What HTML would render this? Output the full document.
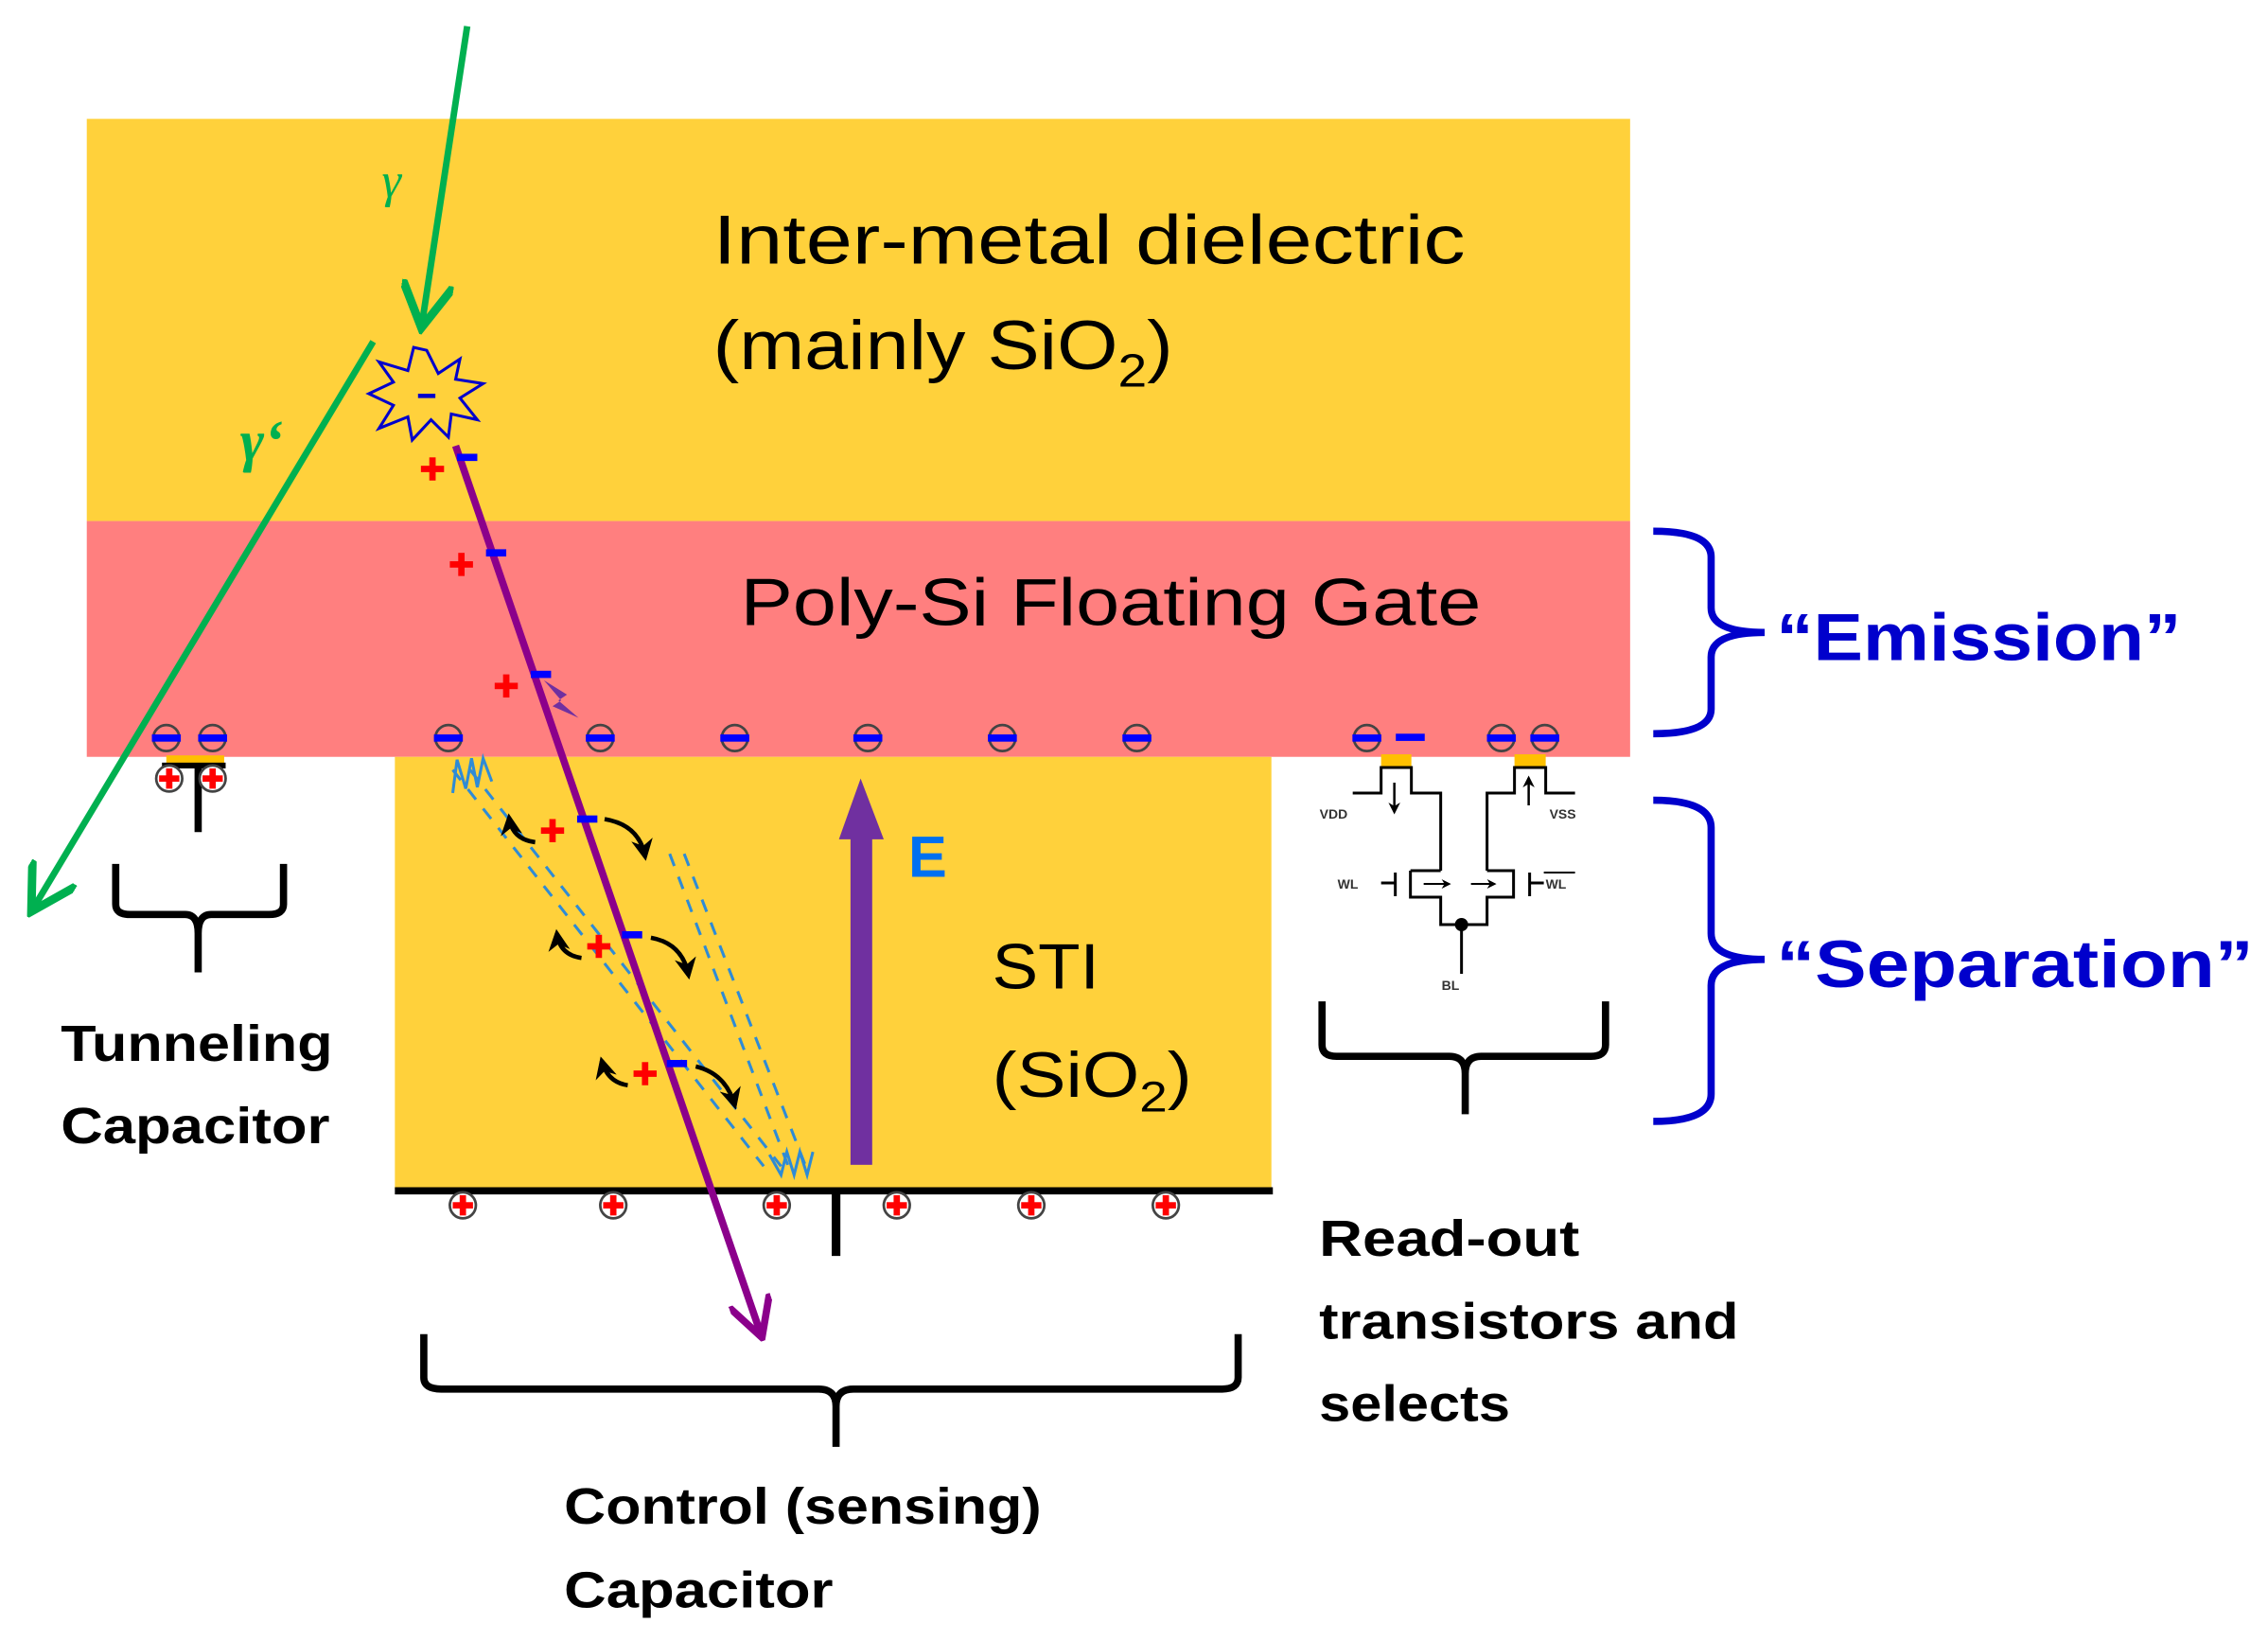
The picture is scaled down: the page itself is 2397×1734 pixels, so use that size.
<!DOCTYPE html>
<html><head><meta charset="utf-8"><style>html,body{margin:0;padding:0;background:#fff}svg{display:block}</style></head>
<body>
<svg width="2397" height="1734" viewBox="0 0 1568 1134" xmlns="http://www.w3.org/2000/svg" font-family="'Liberation Sans', sans-serif">
<defs>
<marker id="ag" markerWidth="8" markerHeight="8" refX="6" refY="4" orient="auto" markerUnits="strokeWidth"><path d="M0,0 L7,4 L0,8" fill="none" stroke="#00b050" stroke-width="1.3"/></marker>
<marker id="ap" markerWidth="6" markerHeight="6" refX="5" refY="3" orient="auto" markerUnits="strokeWidth"><path d="M0,0 L5.5,3 L0,6" fill="none" stroke="#8b008b" stroke-width="1"/></marker>
<marker id="ab" markerWidth="5" markerHeight="5" refX="4" refY="2.5" orient="auto" markerUnits="strokeWidth"><path d="M0,0 L5,2.5 L0,5 L1.5,2.5Z" fill="#000"/></marker>
<g id="el"><circle r="9" fill="none" stroke="#444" stroke-width="1.8"/><rect x="-10" y="-2.5" width="20" height="5" fill="#0000ff"/></g>
<g id="pl"><circle r="9" fill="#fff" stroke="#444" stroke-width="1.8"/><rect x="-7" y="-2.2" width="14" height="4.4" fill="#f00"/><rect x="-2.2" y="-7" width="4.4" height="14" fill="#f00"/></g>
<g id="rp"><rect x="-8" y="-2.2" width="16" height="4.4" fill="#f00"/><rect x="-2.2" y="-8" width="4.4" height="16" fill="#f00"/></g>
<rect id="bm" x="-7" y="-2.5" width="14" height="5" fill="#0000ff"/>
</defs>
<rect x="60" y="82" width="1067" height="278" fill="#ffd13b"/>
<rect x="60" y="360" width="1067" height="163" fill="#ff7f7f"/>
<rect x="273" y="523" width="606" height="299" fill="#ffd13b"/>
<line x1="273" y1="823" x2="880" y2="823" stroke="#000" stroke-width="5"/>
<line x1="578" y1="823" x2="578" y2="868" stroke="#000" stroke-width="6"/>
<g><use href="#pl" x="320" y="833"/><use href="#pl" x="424" y="833"/><use href="#pl" x="537" y="833"/><use href="#pl" x="620" y="833"/><use href="#pl" x="713" y="833"/><use href="#pl" x="806" y="833"/></g>
<rect x="115" y="522" width="40" height="6" fill="#ffc000"/>
<rect x="112" y="527" width="44" height="4" fill="#000"/>
<line x1="137" y1="528" x2="137" y2="575" stroke="#000" stroke-width="5"/>
<use href="#pl" x="117" y="538"/><use href="#pl" x="147" y="538"/>
<g><use href="#el" x="115" y="510"/><use href="#el" x="147" y="510"/><use href="#el" x="310" y="510"/><use href="#el" x="415" y="510"/><use href="#el" x="508" y="510"/><use href="#el" x="600" y="510"/><use href="#el" x="693" y="510"/><use href="#el" x="786" y="510"/><use href="#el" x="945" y="510"/><use href="#el" x="1038" y="510"/><use href="#el" x="1068" y="510"/><rect x="965" y="507" width="20" height="5" fill="#0000ff"/></g>
<text x="493" y="182" font-size="48" fill="#000" textLength="520" lengthAdjust="spacingAndGlyphs">Inter-metal dielectric</text>
<text x="493" y="255" font-size="48" fill="#000" textLength="318" lengthAdjust="spacingAndGlyphs">(mainly SiO<tspan font-size="32" dy="12">2</tspan><tspan dy="-12">)</tspan></text>
<text x="512" y="432" font-size="46" fill="#000" textLength="512" lengthAdjust="spacingAndGlyphs">Poly-Si Floating Gate</text>
<text x="686" y="683" font-size="44" fill="#000" textLength="74" lengthAdjust="spacingAndGlyphs">STI</text>
<text x="686" y="758" font-size="44" fill="#000" textLength="138" lengthAdjust="spacingAndGlyphs">(SiO<tspan font-size="30" dy="10">2</tspan><tspan dy="-10">)</tspan></text>
<text x="628" y="606" font-size="40" font-weight="bold" fill="#0070f0">E</text>
<rect x="588" y="575" width="15" height="230" fill="#7030a0"/>
<polygon points="580,580 595,538 611,580" fill="#7030a0"/>
<g stroke="#2e8bd6" stroke-width="2" stroke-dasharray="9,8" fill="none">
<line x1="313" y1="532" x2="528" y2="806"/><line x1="325" y1="532" x2="540" y2="806"/>
<line x1="463" y1="590" x2="545" y2="806"/><line x1="473" y1="590" x2="557" y2="806"/>
</g>
<g stroke="#2e8bd6" stroke-width="2" fill="none">
<path d="M313,548 L316,525 L322,545 L326,524 L330,544 L334,524 L340,540"/>
<path d="M532,798 L540,812 L544,796 L549,812 L553,796 L558,812 L562,796"/>
</g>
<line x1="315" y1="308" x2="526" y2="922" stroke="#8b008b" stroke-width="5" marker-end="url(#ap)"/>
<polygon points="376,470 392,480 386,484 400,496 382,488 388,484" fill="#7030a0"/>
<g>
<use href="#rp" x="299" y="324"/><use href="#bm" x="323" y="316"/>
<use href="#rp" x="319" y="390"/><use href="#bm" x="343" y="382"/>
<use href="#rp" x="350" y="474"/><use href="#bm" x="374" y="466"/>
<use href="#rp" x="382" y="574"/><use href="#bm" x="406" y="566"/>
<use href="#rp" x="414" y="654"/><use href="#bm" x="437" y="646"/>
<use href="#rp" x="446" y="742"/><use href="#bm" x="468" y="735"/>
</g>
<g stroke="#000" stroke-width="3" fill="none">
<path d="M370,582 Q354,580 352,565" marker-end="url(#ab)"/><path d="M418,566 Q442,570 446,592" marker-end="url(#ab)"/>
<path d="M402,662 Q387,660 385,645" marker-end="url(#ab)"/><path d="M450,648 Q472,652 476,674" marker-end="url(#ab)"/>
<path d="M434,750 Q420,748 416,733" marker-end="url(#ab)"/><path d="M481,737 Q502,742 508,764" marker-end="url(#ab)"/>
</g>
<polygon points="295,242 303,258 318,248 315,262 334,265 318,275 330,290 312,286 310,302 298,290 285,304 282,288 262,296 272,280 255,272 272,264 262,250 282,256 286,240" fill="none" stroke="#0000cc" stroke-width="2"/>
<rect x="289" y="272" width="12" height="3" fill="#0000cc"/>
<line x1="323" y1="18" x2="292" y2="222" stroke="#00b050" stroke-width="4.5" marker-end="url(#ag)"/>
<line x1="258" y1="236" x2="24" y2="626" stroke="#00b050" stroke-width="4.5" marker-end="url(#ag)"/>
<text x="264" y="136" font-size="34" font-style="italic" fill="#00b050" font-family="'Liberation Serif', serif">γ</text>
<text x="166" y="318" font-size="40" font-style="italic" font-weight="bold" fill="#00b050" font-family="'Liberation Serif', serif">γ‘</text>
<g stroke="#000" stroke-width="5" fill="none">
<path d="M80,597 L80,625 Q80,632 90,632 L128,632 Q137,632 137,645 L137,672 M137,645 Q137,632 146,632 L186,632 Q196,632 196,625 L196,597"/>
<path d="M914,692 L914,722 Q914,730 924,730 L1002,730 Q1013,730 1013,742 L1013,770 M1013,742 Q1013,730 1024,730 L1100,730 Q1110,730 1110,722 L1110,692"/>
<path d="M293,922 L293,952 Q293,960 305,960 L566,960 Q578,960 578,972 L578,1000 M578,972 Q578,960 590,960 L845,960 Q856,960 856,952 L856,922"/>
</g>
<g stroke="#0000cc" stroke-width="5" fill="none">
<path d="M1143,367 Q1183,367 1183,385 L1183,420 Q1183,437 1220,437 Q1183,437 1183,454 L1183,490 Q1183,507 1143,507"/>
<path d="M1143,553 Q1183,553 1183,572 L1183,645 Q1183,663 1220,663 Q1183,663 1183,681 L1183,756 Q1183,775 1143,775"/>
</g>
<text x="1228" y="456" font-size="46" font-weight="bold" fill="#0000cc" textLength="280" lengthAdjust="spacingAndGlyphs">“Emission”</text>
<text x="1228" y="682" font-size="46" font-weight="bold" fill="#0000cc" textLength="330" lengthAdjust="spacingAndGlyphs">“Separation”</text>
<g font-size="35" font-weight="bold" fill="#000">
<text x="42" y="733" textLength="188" lengthAdjust="spacingAndGlyphs">Tunneling</text>
<text x="42" y="790" textLength="186" lengthAdjust="spacingAndGlyphs">Capacitor</text>
<text x="912" y="868" textLength="180" lengthAdjust="spacingAndGlyphs">Read-out</text>
<text x="912" y="925" textLength="290" lengthAdjust="spacingAndGlyphs">transistors and</text>
<text x="912" y="982" textLength="132" lengthAdjust="spacingAndGlyphs">selects</text>
<text x="390" y="1053" textLength="330" lengthAdjust="spacingAndGlyphs">Control (sensing)</text>
<text x="390" y="1111" textLength="186" lengthAdjust="spacingAndGlyphs">Capacitor</text>
</g>
<g transform="scale(0.654)">
<rect x="1460" y="797" width="32" height="13" fill="#ffc000"/>
<rect x="1601" y="797" width="33" height="13" fill="#ffc000"/>
<g stroke="#000" stroke-width="3" fill="none">
<path d="M1430,838 L1460,838 L1460,811 L1492,811 L1492,838 L1523,838 L1523,920"/>
<path d="M1665,838 L1634,838 L1634,811 L1601,811 L1601,838 L1572,838 L1572,920"/>
<path d="M1491,920 L1523,920 M1491,920 L1491,948 L1523,948 L1523,977 L1572,977 L1572,948 L1600,948 L1600,920 L1572,920"/>
<line x1="1545" y1="977" x2="1545" y2="1029"/>
<line x1="1460" y1="933" x2="1475" y2="933"/><line x1="1475" y1="922" x2="1475" y2="947"/>
<line x1="1617" y1="922" x2="1617" y2="947"/><line x1="1617" y1="933" x2="1632" y2="933"/>
<line x1="1632" y1="922" x2="1665" y2="922" stroke-width="2"/>
<line x1="1474" y1="827" x2="1474" y2="858" stroke-width="2.5" marker-end="url(#ab)"/>
<line x1="1616" y1="851" x2="1616" y2="822" stroke-width="2.5" marker-end="url(#ab)"/>
<line x1="1505" y1="934" x2="1532" y2="934" stroke-width="2" marker-end="url(#ab)"/>
<line x1="1555" y1="934" x2="1580" y2="934" stroke-width="2" marker-end="url(#ab)"/>
</g>
<circle cx="1545" cy="977" r="7" fill="#000"/>
<g font-size="14" font-weight="bold" fill="#333">
<text x="1395" y="865">VDD</text><text x="1638" y="865">VSS</text>
<text x="1414" y="939">WL</text><text x="1634" y="939">WL</text><text x="1524" y="1046">BL</text>
</g>
</g>
</svg>
</body></html>
